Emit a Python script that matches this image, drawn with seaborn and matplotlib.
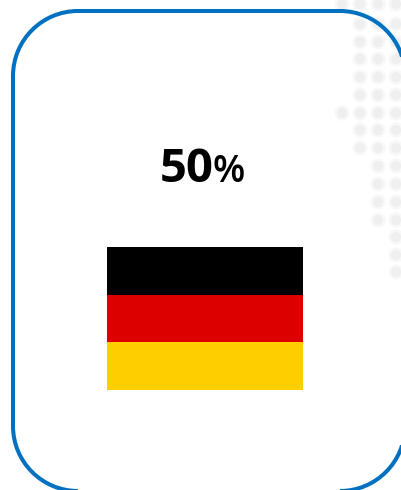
"""
Card with a percentage label and the German flag, over a faint dot map.
"""
import pandas as pd
import matplotlib
matplotlib.use("Agg")
import matplotlib.pyplot as plt
import seaborn as sns
from matplotlib.colors import ListedColormap
from matplotlib.patches import PathPatch
from matplotlib.path import Path

W, H = 401, 490

# dot map: one y per row, and the x columns filled in that row
dot_rows = [4, 24, 42, 59, 77, 95, 113, 130, 148, 166, 184, 202, 220, 237, 255, 272]
dot_cols = [
    [342, 360, 378, 396],
    [360, 378, 396],
    [360, 378, 396],
    [360, 378, 396],
    [360, 378, 396],
    [360, 378, 396],
    [342, 360, 378, 396],
    [360, 378, 396],
    [360, 378, 396],
    [378, 396],
    [378, 396],
    [378, 396],
    [378, 396],
    [396],
    [396],
    [396],
]

percent_value = "50"
percent_sign = "%"

stripe_index = [[0], [1], [2]]
stripe_colors = ["#000000", "#DD0000", "#FFCE00"]


def rounded_card(x0, y0, x1, y1, r):
    k = 0.5523 * r
    verts = [
        (x0 + r, y0), (x1 - r, y0),
        (x1 - r + k, y0), (x1, y0 + r - k), (x1, y0 + r),
        (x1, y1 - r),
        (x1, y1 - r + k), (x1 - r + k, y1), (x1 - r, y1),
        (x0 + r, y1),
        (x0 + r - k, y1), (x0, y1 - r + k), (x0, y1 - r),
        (x0, y0 + r),
        (x0, y0 + r - k), (x0 + r - k, y0), (x0 + r, y0),
    ]
    codes = [Path.MOVETO, Path.LINETO] + [Path.CURVE4] * 3 + [Path.LINETO] + [Path.CURVE4] * 3
    codes += [Path.LINETO] + [Path.CURVE4] * 3 + [Path.LINETO] + [Path.CURVE4] * 3
    # flatten it, agg clips control points outside the canvas and bends the curves
    return Path(Path(verts, codes).to_polygons(closed_only=False)[0])


def main():
    sns.set_theme(style="white")
    plt.rcParams['font.family'] = ['Open Sans', 'DejaVu Sans']

    fig = plt.figure(figsize=(W / 100, H / 100), dpi=100)
    ax = fig.add_axes([0, 0, 1, 1])

    dots = pd.DataFrame(
        [(x, y) for y, xs in zip(dot_rows, dot_cols) for x in xs],
        columns=['x', 'y'],
    )
    # two layers so the dots look a bit soft
    sns.scatterplot(data=dots, x='x', y='y', ax=ax, s=120, color="#E8E8E8", alpha=0.3,
                    edgecolor="none", legend=False, zorder=1)
    sns.scatterplot(data=dots, x='x', y='y', ax=ax, s=55, color="#E8E8E8", alpha=0.5,
                    edgecolor="none", legend=False, zorder=1)

    ax.set_xlim(0, W)
    ax.set_ylim(H, 0)
    ax.axis('off')

    card = PathPatch(rounded_card(13, 11, 405, 491, 65), facecolor='none',
                     edgecolor="#0070C0", linewidth=2.9, zorder=2)
    ax.add_patch(card)

    ax.text(160, 182, percent_value, fontsize=34, fontweight='bold',
            ha='left', va='baseline', color='black')
    ax.text(213, 182, percent_sign, fontsize=27, fontweight='semibold',
            ha='left', va='baseline', color='black')

    # flag goes in its own axes, three rows of a heatmap
    flag_ax = fig.add_axes([107 / W, 1 - 390 / H, 196 / W, 143 / H])
    sns.heatmap(stripe_index, ax=flag_ax, cmap=ListedColormap(stripe_colors),
                cbar=False, xticklabels=False, yticklabels=False, linewidths=0)
    flag_ax.axis('off')

    fig.savefig("out.png", dpi=100)


if __name__ == "__main__":
    main()
